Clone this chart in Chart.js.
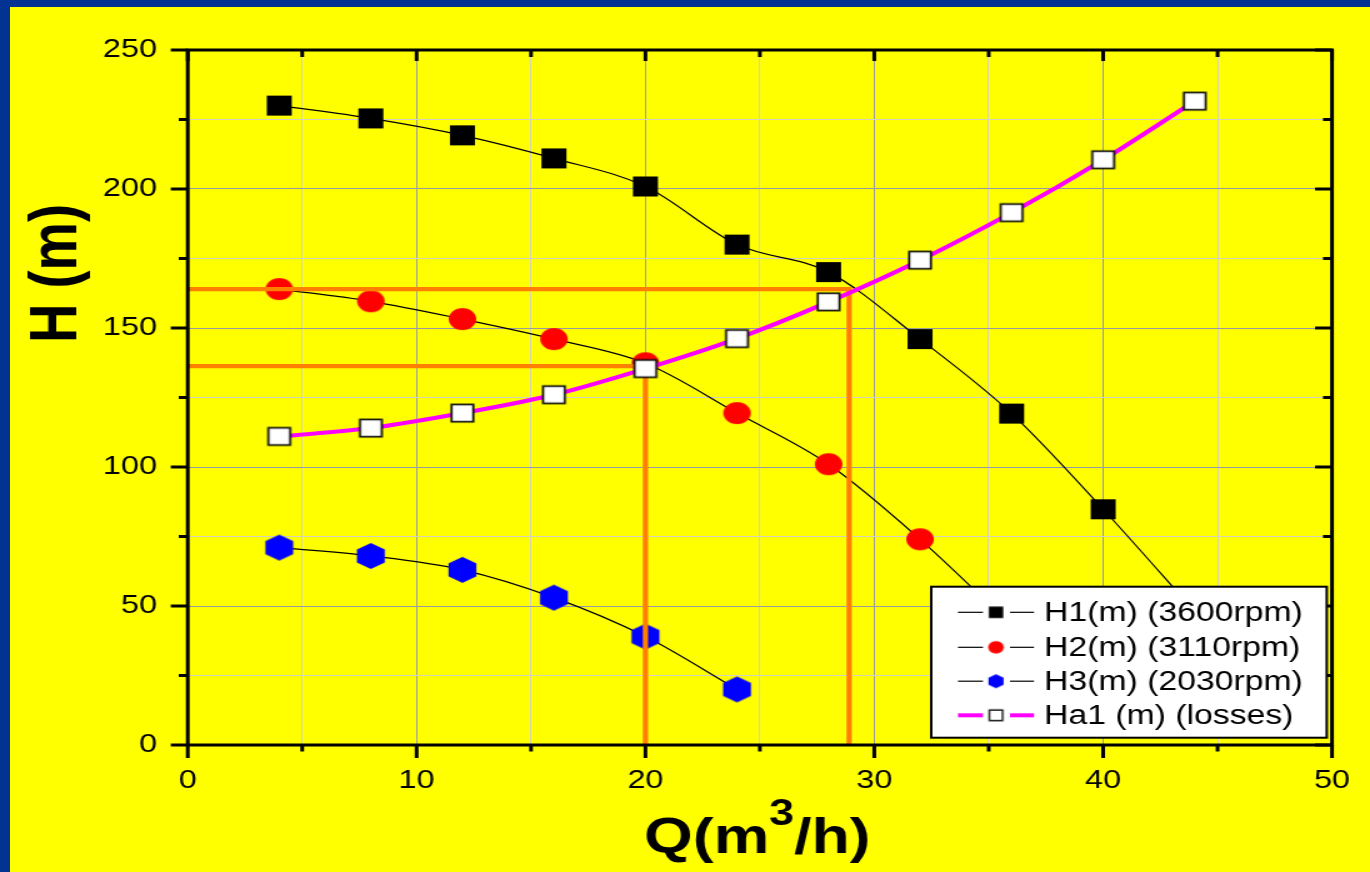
<!DOCTYPE html>
<html>
<head>
<meta charset="utf-8">
<script src="https://cdn.jsdelivr.net/npm/chart.js@4/dist/chart.umd.min.js"></script>
<style>
  html, body { margin: 0; padding: 0; width: 1370px; height: 872px; overflow: hidden; background: #ffff00; }
  #wrap { position: absolute; left: 0; top: 0; width: 1096px; height: 872px; transform: scaleX(1.25); transform-origin: 0 0; }
  .edge { position: absolute; background: #033392; }
</style>
</head>
<body>
<div id="wrap"><canvas id="pump" width="1096" height="872"></canvas></div>
<div class="edge" style="left:0;top:0;width:10px;height:872px"></div>
<div class="edge" style="left:0;top:0;width:1370px;height:7px"></div>
<script>
// Flow rates (m3/h) and heads (m) for the pump curves and the system curve
const qH1 = [4, 8, 12, 16, 20, 24, 28, 32, 36, 40, 44];
const h1  = [230, 225.4, 219.3, 211, 200.9, 180, 170.1, 146, 119.2, 84.8, 48];
const qH2 = [4, 8, 12, 16, 20, 24, 28, 32, 36];
const h2  = [164, 159.6, 153.2, 146, 137.3, 119.4, 101, 74, 43];
const qH3 = [4, 8, 12, 16, 20, 24];
const h3  = [71, 68, 63, 53, 39, 20];
const qHa1 = [4, 8, 12, 16, 20, 24, 28, 32, 36, 40, 44];
const ha1  = [111, 114, 119.4, 126, 135.4, 146.2, 159.4, 174.4, 191.5, 210.5, 231.6];

// Operating points read on the system curve
const op1Q = [0, 28.9, 28.9];
const op1H = [164, 164, 0];
const op2Q = [0, 20, 20];
const op2H = [136.3, 136.3, 0];

// Axis ranges and steps
const qRange = [0, 50];
const hRange = [0, 250];
const qStep = 5, qLabelStep = 10;
const hStep = 25, hLabelStep = 50;

const seriesNames = ['H1(m) (3600rpm)', 'H2(m) (3110rpm)', 'H3(m) (2030rpm)', 'Ha1 (m) (losses)'];
const xTitle = ['Q(m', '3', '/h)'];
const yTitle = 'H (m)';

const FONT = "'Liberation Sans', Arial, sans-serif";

function pts(xs, ys) { return xs.map((x, i) => ({ x: x, y: ys[i] })); }

function marker(kind, size, fill, stroke, strokeW) {
  const c = document.createElement('canvas');
  const w = Math.ceil(size + 4);
  c.width = w; c.height = w;
  const g = c.getContext('2d');
  const m = w / 2;
  g.beginPath();
  if (kind === 'square') {
    g.rect(m - size / 2, m - size / 2, size, size);
  } else if (kind === 'circle') {
    g.arc(m, m, size / 2, 0, Math.PI * 2);
  } else {
    const r = size / 2;
    for (let i = 0; i < 6; i++) {
      const a = Math.PI / 2 + i * Math.PI / 3;
      const px = m + r * Math.cos(a), py = m - r * Math.sin(a);
      if (i) g.lineTo(px, py); else g.moveTo(px, py);
    }
    g.closePath();
  }
  g.fillStyle = fill;
  g.fill();
  if (stroke) { g.lineWidth = strokeW; g.strokeStyle = stroke; g.stroke(); }
  return c;
}

const mk = {
  h1:  marker('square', 20, '#000000'),
  h2:  marker('circle', 22, '#ff0000'),
  h3:  marker('hexagon', 25.8, '#0000ff'),
  ha1: marker('square', 17.4, '#ffffff', '#111111', 1.8)
};
const mkSmall = {
  h1:  marker('square', 11.5, '#000000'),
  h2:  marker('circle', 12.5, '#ff0000'),
  h3:  marker('hexagon', 14, '#0000ff'),
  ha1: marker('square', 10.5, '#ffffff', '#111111', 1.4)
};

const legendItems = [
  { text: seriesNames[0], color: '#000000', width: 1.2, img: mkSmall.h1 },
  { text: seriesNames[1], color: '#000000', width: 1.2, img: mkSmall.h2 },
  { text: seriesNames[2], color: '#000000', width: 1.2, img: mkSmall.h3 },
  { text: seriesNames[3], color: '#ff00ff', width: 4,   img: mkSmall.ha1 }
];

function seg(ctx, x1, y1, x2, y2) { ctx.beginPath(); ctx.moveTo(x1, y1); ctx.lineTo(x2, y2); ctx.stroke(); }

// Box frame with outward ticks on the left/bottom and inward ticks on the top/right
const framePlugin = {
  id: 'frame',
  afterDatasetsDraw(chart) {
    const { ctx, chartArea: a, scales: { x, y } } = chart;
    ctx.save();
    ctx.strokeStyle = '#000';
    ctx.lineWidth = 3;
    ctx.lineCap = 'butt';
    ctx.strokeRect(a.left, a.top, a.right - a.left, a.bottom - a.top);
    x.ticks.forEach(t => {
      const px = x.getPixelForValue(t.value);
      const major = Math.abs(t.value % qLabelStep) < 1e-9;
      seg(ctx, px, a.bottom, px, a.bottom + (major ? 13 : 6.5));
      seg(ctx, px, a.top, px, a.top + (major ? 11 : 7));
    });
    y.ticks.forEach(t => {
      const py = y.getPixelForValue(t.value);
      const major = Math.abs(t.value % hLabelStep) < 1e-9;
      seg(ctx, a.left - (major ? 13.6 : 7.2), py, a.left, py);
      seg(ctx, a.right - (major ? 13.6 : 7.2), py, a.right, py);
    });
    ctx.restore();

    // Legend box
    const L = { left: 745, top: 586.7, right: 1061.4, bottom: 737.7 };
    const rows = [612.3, 647.3, 681.2, 715.3];
    ctx.save();
    ctx.fillStyle = '#ffffff';
    ctx.fillRect(L.left, L.top, L.right - L.left, L.bottom - L.top);
    ctx.strokeStyle = '#000';
    ctx.lineWidth = 2;
    ctx.strokeRect(L.left, L.top, L.right - L.left, L.bottom - L.top);
    ctx.font = '27px ' + FONT;
    ctx.textBaseline = 'middle';
    ctx.textAlign = 'left';
    legendItems.forEach((it, i) => {
      const yy = rows[i];
      ctx.strokeStyle = it.color;
      ctx.lineWidth = it.width;
      seg(ctx, 766.4, yy, 786.4, yy);
      seg(ctx, 808, yy, 827.2, yy);
      ctx.drawImage(it.img, 796.8 - it.img.width / 2, yy - it.img.height / 2);
      ctx.fillStyle = '#000';
      ctx.fillText(it.text, 835.2, yy + 1);
    });
    ctx.restore();
  },
  afterDraw(chart) {
    const { ctx, chartArea: a } = chart;
    ctx.save();
    ctx.fillStyle = '#000';
    // x title with superscript
    const big = 'bold 50px ' + FONT, small = 'bold 36px ' + FONT;
    ctx.font = big; const w0 = ctx.measureText(xTitle[0]).width;
    ctx.font = small; const w1 = ctx.measureText(xTitle[1]).width;
    ctx.font = big; const w2 = ctx.measureText(xTitle[2]).width;
    let xs = (a.left + a.right) / 2 - (w0 + w1 + w2) / 2 - 2;
    const base = 853;
    ctx.textBaseline = 'alphabetic';
    ctx.textAlign = 'left';
    ctx.font = big; ctx.fillText(xTitle[0], xs, base); xs += w0;
    ctx.font = small; ctx.fillText(xTitle[1], xs, 825); xs += w1;
    ctx.font = big; ctx.fillText(xTitle[2], xs, base);
    // y title, rotated
    ctx.translate(60.8, 273.4);
    ctx.rotate(-Math.PI / 2);
    ctx.font = 'bold 54.5px ' + FONT;
    ctx.textAlign = 'center';
    ctx.fillText(yTitle, 0, 0);
    ctx.restore();
  }
};

const gridColor = (step) => (c) => (c.tick && Math.abs(c.tick.value % step) < 1e-9) ? '#9a9aa2' : '#d2d2c4';

new Chart(document.getElementById('pump'), {
  type: 'line',
  data: {
    datasets: [
      { label: seriesNames[3], data: pts(qHa1, ha1), borderColor: '#ff00ff', borderWidth: 4,
        pointStyle: mk.ha1, pointRadius: 10, cubicInterpolationMode: 'monotone' },
      { label: 'op1', data: pts(op1Q, op1H), borderColor: '#ff8000', borderWidth: 4.2,
        pointRadius: 0, tension: 0 },
      { label: 'op2', data: pts(op2Q, op2H), borderColor: '#ff8000', borderWidth: 4.2,
        pointRadius: 0, tension: 0 },
      { label: seriesNames[0], data: pts(qH1, h1), borderColor: '#000', borderWidth: 1.2,
        pointStyle: mk.h1, pointRadius: 10, cubicInterpolationMode: 'monotone' },
      { label: seriesNames[1], data: pts(qH2, h2), borderColor: '#000', borderWidth: 1.2,
        pointStyle: mk.h2, pointRadius: 10, cubicInterpolationMode: 'monotone' },
      { label: seriesNames[2], data: pts(qH3, h3), borderColor: '#000', borderWidth: 1.2,
        pointStyle: mk.h3, pointRadius: 10, cubicInterpolationMode: 'monotone' }
    ]
  },
  options: {
    responsive: false,
    animation: false,
    devicePixelRatio: 1,
    events: [],
    layout: { padding: { left: 0, right: 30.4, top: 50, bottom: 0 } },
    plugins: { legend: { display: false }, tooltip: { enabled: false } },
    scales: {
      x: {
        type: 'linear', min: qRange[0], max: qRange[1],
        afterFit: (s) => { s.height = 127; s.paddingLeft = 0; s.paddingRight = 0; },
        border: { display: false },
        grid: { color: gridColor(qLabelStep), lineWidth: 1, drawTicks: false },
        ticks: { stepSize: qStep, autoSkip: false, maxRotation: 0, padding: 20.4, color: '#000',
          font: { family: FONT, size: 26 },
          callback: (v) => (v % qLabelStep === 0 ? String(v) : '') }
      },
      y: {
        type: 'linear', min: hRange[0], max: hRange[1],
        afterFit: (s) => { s.width = 150.2; s.paddingTop = 0; s.paddingBottom = 0; },
        border: { display: false },
        grid: { color: gridColor(hLabelStep), lineWidth: 1, drawTicks: false },
        ticks: { stepSize: hStep, autoSkip: false, padding: 24.6, color: '#000',
          font: { family: FONT, size: 26 },
          callback: (v) => (v % hLabelStep === 0 ? String(v) : '') }
      }
    }
  },
  plugins: [framePlugin]
});
</script>
</body>
</html>
